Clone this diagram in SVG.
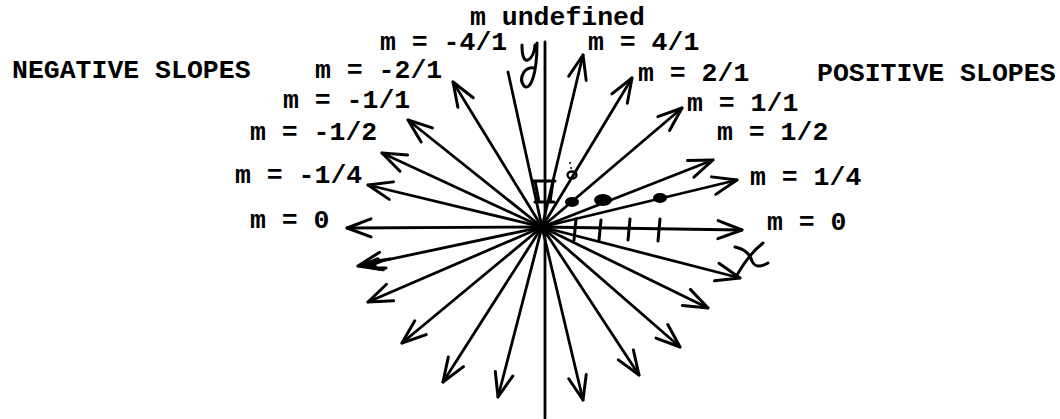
<svg xmlns="http://www.w3.org/2000/svg" width="1060" height="419" viewBox="0 0 1060 419">
<style>
.lbl{font-family:"Liberation Mono","Courier New",monospace;font-weight:bold;font-size:26.5px;fill:#000}
.ray{fill:none;stroke:#000;stroke-width:2.8;stroke-linecap:round}
.hand{fill:none;stroke:#000;stroke-width:3;stroke-linecap:round;stroke-linejoin:round}
.dot{fill:#000}
</style>
<defs>
<marker id="ah" markerUnits="userSpaceOnUse" viewBox="-30 -15 35 30" markerWidth="35" markerHeight="30" refX="0" refY="0" orient="auto" overflow="visible">
<path d="M-24,-9 L0,0 L-24,9" fill="none" stroke="#000" stroke-width="3" stroke-linecap="round" stroke-linejoin="round"/>
</marker>
</defs>
<rect width="1060" height="419" fill="#fff"/>
<g id="connectors">
<path class="ray" d="M545,42 L545,418"/>
<path class="ray" d="M542,227 L508,72"/>
<path class="ray" d="M542,227 L583,55" marker-end="url(#ah)"/>
<path class="ray" d="M542,227 L453,82" marker-end="url(#ah)"/>
<path class="ray" d="M542,227 L632,78" marker-end="url(#ah)"/>
<path class="ray" d="M542,227 L682,108" marker-end="url(#ah)"/>
<path class="ray" d="M542,227 L408,120" marker-end="url(#ah)"/>
<path class="ray" d="M542,227 L713,160" marker-end="url(#ah)"/>
<path class="ray" d="M542,227 L382,153" marker-end="url(#ah)"/>
<path class="ray" d="M542,227 L737,180" marker-end="url(#ah)"/>
<path class="ray" d="M542,227 L368,185" marker-end="url(#ah)"/>
<path class="ray" d="M542,227 L742,230" marker-end="url(#ah)"/>
<path class="ray" d="M542,227 L347,228" marker-end="url(#ah)"/>
<path class="ray" d="M542,227 L358,266" marker-end="url(#ah)"/>
<path class="ray" d="M542,227 L368,302" marker-end="url(#ah)"/>
<path class="ray" d="M542,227 L402,343" marker-end="url(#ah)"/>
<path class="ray" d="M542,227 L443,382" marker-end="url(#ah)"/>
<path class="ray" d="M542,227 L498,397" marker-end="url(#ah)"/>
<path class="ray" d="M542,227 L583,400" marker-end="url(#ah)"/>
<path class="ray" d="M542,227 L639,375" marker-end="url(#ah)"/>
<path class="ray" d="M542,227 L680,347" marker-end="url(#ah)"/>
<path class="ray" d="M542,227 L708,308" marker-end="url(#ah)"/>
<path class="ray" d="M542,227 L740,278" marker-end="url(#ah)"/>
</g>
<g id="handwriting">
<path class="dot" d="M357,266 L378,257 L383,262 L376,265 L381,271 Z"/>
<path class="hand" d="M370,262 L390,259 M372,268 L386,268" stroke-width="2"/>
<path class="hand" d="M576,219 L574,240 M601,220 L599,240 M630,219 L628,240 M660,219 L658,241" stroke-width="2.6"/>
<ellipse class="dot" cx="572" cy="202" rx="7" ry="5"/>
<ellipse class="dot" cx="603" cy="200" rx="9" ry="6"/>
<ellipse class="dot" cx="660" cy="198" rx="7" ry="5"/>
<ellipse cx="572" cy="175" rx="4.5" ry="3.5" fill="none" stroke="#000" stroke-width="2.4"/>
<circle class="dot" cx="570" cy="163" r="1"/>
<circle class="dot" cx="571" cy="168" r="1"/>
<path class="hand" d="M533,181 L555,181 M535,181 L539,202 M553,181 L550,202 M535,202 L554,202" stroke-width="2.4"/>
<path class="hand" d="M522,45 Q522,62 528,60 Q534,57 535,45 M537,43 Q537,66 533,78 Q529,90 524,86 Q519,80 524,72 Q528,67 534,68" stroke-width="3.2"/>
<path class="hand" d="M735,247 Q749,250 752,261 Q756,270 768,263 M763,243 Q749,254 737,275"/>
</g>
<g id="label-undefined"><text class="lbl" x="470" y="25">m undefined</text></g>
<g id="label-m-4"><text class="lbl" x="380" y="50">m = -4/1</text></g>
<g id="label-p4"><text class="lbl" x="588" y="50">m = 4/1</text></g>
<g id="label-negative"><text class="lbl" x="12" y="78">NEGATIVE SLOPES</text></g>
<g id="label-m-2"><text class="lbl" x="315" y="78">m = -2/1</text></g>
<g id="label-p2"><text class="lbl" x="638" y="81">m = 2/1</text></g>
<g id="label-positive"><text class="lbl" x="817" y="81">POSITIVE SLOPES</text></g>
<g id="label-m-1"><text class="lbl" x="283" y="108">m = -1/1</text></g>
<g id="label-p1"><text class="lbl" x="687" y="111">m = 1/1</text></g>
<g id="label-m-half"><text class="lbl" x="250" y="140">m = -1/2</text></g>
<g id="label-p-half"><text class="lbl" x="717" y="140">m = 1/2</text></g>
<g id="label-m-quarter"><text class="lbl" x="235" y="183">m = -1/4</text></g>
<g id="label-p-quarter"><text class="lbl" x="750" y="185">m = 1/4</text></g>
<g id="label-zero-left"><text class="lbl" x="250" y="228">m = 0</text></g>
<g id="label-zero-right"><text class="lbl" x="767" y="230">m = 0</text></g>
</svg>
